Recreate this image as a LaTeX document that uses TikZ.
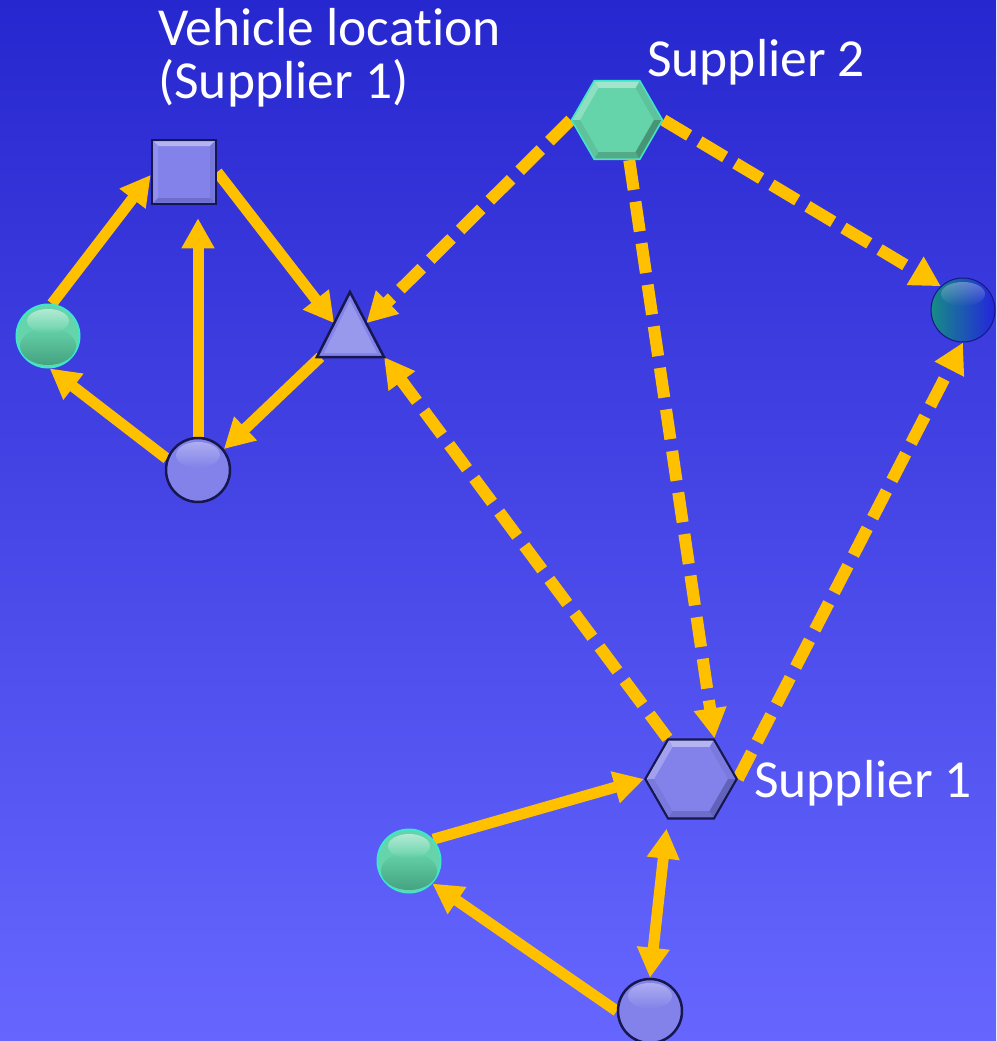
\documentclass[tikz,border=0pt]{standalone}
\usepackage{fontspec}
\setmainfont{Carlito}[Ligatures=NoCommon]
\usetikzlibrary{arrows.meta,calc,shapes.geometric,fadings}

\definecolor{bgtop}{HTML}{2727CF}
\definecolor{bgbot}{HTML}{6666FF}
\definecolor{gold}{HTML}{FFC000}
\definecolor{lav}{HTML}{8282EA}
\definecolor{navy}{HTML}{17174F}
\definecolor{mint}{HTML}{66D4AA}
\definecolor{mintrim}{HTML}{3FE6C8}
\definecolor{mintdark}{HTML}{2F8266}
\definecolor{teal}{HTML}{168C86}
\definecolor{deepblue}{HTML}{2424DE}

\pgfdeclarelayer{back}
\pgfdeclarelayer{links}
\pgfsetlayers{back,links,main}

\tikzfading[name=topglow, top color=transparent!0, bottom color=transparent!100]
\tikzfading[name=botglow, top color=transparent!100, bottom color=transparent!0]

\tikzset{
  tip/.style={-{Triangle[length=30pt,width=31pt]}},
  link/.style={draw=gold, line width=11pt, tip},
  dlink/.style={link, line width=12pt, dash pattern=on 30pt off 12pt},
  lavball/.style={circle, inner sep=0pt, minimum size=64pt, fill=lav, draw=navy, line width=2.5pt},
  mintball/.style={circle, inner sep=0pt, minimum size=63pt, fill=mint, draw=mintrim, line width=2pt},
  hexa/.style={regular polygon, regular polygon sides=6, inner sep=0pt, minimum size=91pt},
  lbl/.style={text=white, font=\fontsize{53.5}{54}\selectfont, inner sep=0pt, anchor=base west},
}

% glossy highlights for a round node
\newcommand\lavgloss[1]{%
  \fill[white, opacity=0.35, path fading=topglow] ($(#1)+(0,-15)$) ellipse [x radius=22pt, y radius=13pt];
}
\newcommand\mintgloss[1]{%
  \fill[mintdark, opacity=0.6, path fading=botglow] ($(#1)+(0,10)$) ellipse [x radius=28pt, y radius=19pt];
  \fill[white, opacity=0.5, path fading=topglow] ($(#1)+(0,-15)$) ellipse [x radius=21pt, y radius=12pt];
}
% bevelled facets of a hexagon node: #1 node, #2 base colour, #3 shade colour
\newcommand\hexbevel[3]{%
  \begin{scope}[shift={(#1)}, yscale=-1]
    \foreach \a/\col in {0/#2!92!#3, 60/#2!60!white, 120/#2!75!white, 180/#2!92!#3, 240/#2!80!#3, 300/#2!70!#3}
      \fill[\col] (\a:44.3) -- ({\a+60}:44.3) -- ({\a+60}:37) -- (\a:37) -- cycle;
  \end{scope}
}

\begin{document}
\begin{tikzpicture}[x=1pt,y=-1pt]
\begin{pgfonlayer}{back}
  \shade[top color=bgtop, bottom color=bgbot] (0,0) rectangle (996,1041);
\end{pgfonlayer}
\useasboundingbox (0,0) rectangle (996,1041);

% vehicle location (square)
\node[rectangle, minimum size=64pt, inner sep=0pt, fill=lav, draw=navy, line width=2.5pt] (vl) at (184,172) {};
\begin{scope}[shift={(vl)}]
  \fill[lav!60!white] (-30.7,-30.7) -- (30.7,-30.7) -- (26,-26) -- (-26,-26) -- cycle;
  \fill[lav!88!white] (-30.7,-30.7) -- (-26,-26) -- (-26,26) -- (-30.7,30.7) -- cycle;
  \fill[lav!90!navy] (30.7,-30.7) -- (26,-26) -- (26,26) -- (30.7,30.7) -- cycle;
  \fill[lav!80!navy] (-30.7,30.7) -- (30.7,30.7) -- (26,26) -- (-26,26) -- cycle;
\end{scope}

% left cluster
\node[mintball] (gl) at (48,336) {};
\mintgloss{gl}
\node[lavball] (c1) at (198,470) {};
\lavgloss{c1}

% triangle
\coordinate (tt) at (350,292);
\coordinate (tl) at (317,357);
\coordinate (tr) at (384,357);
\filldraw[fill=lav, draw=navy, line width=2.5pt, line join=miter] (tt) -- (tl) -- (tr) -- cycle;
\fill[white, opacity=0.18] ($(tt)+(0,9)$) -- ($(tl)+(7,-4)$) -- ($(tr)+(-7,-4)$) -- cycle;

% supplier 2 hexagon
\node[hexa, fill=mint, draw=mintrim, line width=1.5pt] (s2) at (617,120) {};
\hexbevel{s2}{mint}{black}

% dark ball
\node[circle, minimum size=64pt, inner sep=0pt, left color=teal, right color=deepblue, draw=deepblue!60!black, line width=1pt] (nb) at (963,310) {};
\fill[white, opacity=0.3, path fading=topglow] ($(nb)+(0,-16)$) ellipse [x radius=22pt, y radius=12pt];

% supplier 1 hexagon
\node[hexa, fill=lav, draw=navy, line width=2.5pt] (s1) at (691,779) {};
\hexbevel{s1}{lav}{navy}

% bottom cluster
\node[mintball] (gb) at (409,861) {};
\mintgloss{gb}
\node[lavball] (c2) at (650,1011) {};
\lavgloss{c2}

% labels
\node[lbl] (vlt1) at (158,46) {Vehicle location};
\node[lbl] (vlt2) at (158,99) {(Supplier 1)};
\node[lbl] (s2t) at (647,77) {Supplier 2};
\node[lbl] (s1t) at (754,797) {Supplier 1};

\begin{pgfonlayer}{links}
  % solid links
  \draw[link] (gl.83) -- (vl.185);
  \draw[link, shorten >=13pt] (c1.north) -- (c1.north |- vl.south);
  \draw[link] (vl.east) -- ($(tt)!0.48!(tl)$);
  \draw[link] ($(tl)!0.05!(tr)$) -- (c1.39);
  \draw[link] (c1.160) -- (gl.-87);
  \draw[link] (gb.42) -- (s1.180);
  \draw[link] (c2.west) -- (gb.-44);
  \draw[link, {Triangle[length=30pt,width=31pt]}-{Triangle[length=30pt,width=31pt]}, shorten >=9pt] (c2.north) -- (s1.240);
  % dashed links
  \draw[dlink] (s2.180) -- ($(tt)!0.48!(tr)$);
  \draw[dlink] (s2.0) -- (nb.133);
  \draw[dlink] (s2.-73) -- (s1.60);
  \draw[dlink] (s1.120) -- (tr);
  \draw[dlink] (s1.0) -- (nb.south);
\end{pgfonlayer}
\end{tikzpicture}
\end{document}
